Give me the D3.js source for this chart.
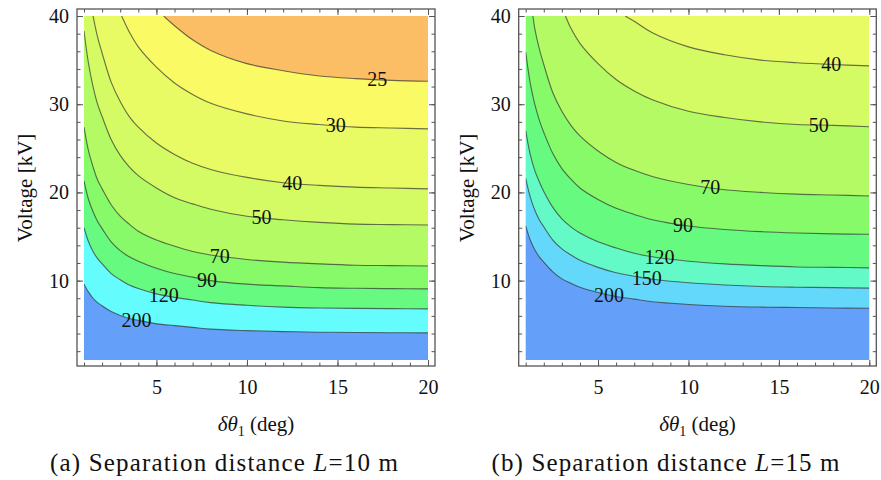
<!DOCTYPE html>
<html>
<head>
<meta charset="utf-8">
<script src="https://cdn.jsdelivr.net/npm/d3@7"></script>
<style>
  body { margin: 0; background: #fff; }
  svg { display: block; }
  svg text { font-family: "Liberation Serif", "DejaVu Serif", serif; fill: #111; }
</style>
</head>
<body>
<svg id="chart" width="881" height="480"></svg>
<script>
// Axis extents and tick labels
const thetaDomain = [1, 20];
const voltDomain = [1, 40];
const xTicks = [5, 10, 15, 20];
const yTicks = [10, 20, 30, 40];

// Panel (a): L = 10 m — separation-distance contour levels and their curves [δθ1, V]
const levelsA = [25, 30, 40, 50, 70, 90, 120, 200];
const contoursA = [
  [[5.4,40],[6,38.9],[7,37.3],[8,36.1],[10,34.6],[12,33.8],[14,33.2],[16,32.9],[18,32.7],[20,32.6]],
  [[3.08,40],[3.5,38.2],[4,36.5],[5,34.2],[6,32.4],[7,31.1],[8,30.1],[10,28.9],[12,28.1],[14,27.7],[16,27.4],[18,27.3],[20,27.2]],
  [[1.5,40],[1.75,37.6],[2,35.8],[2.5,32.5],[3,30.3],[3.5,28.6],[4,27.4],[5,25.6],[6,24.3],[7,23.3],[8,22.6],[10,21.7],[12,21.1],[14,20.8],[16,20.6],[18,20.5],[20,20.4]],
  [[1,38.3],[1.25,34.6],[1.5,32],[1.75,30],[2,28.6],[2.5,26],[3,24.2],[3.5,22.9],[4,21.9],[5,20.5],[6,19.4],[7,18.7],[8,18.1],[10,17.3],[12,16.9],[14,16.6],[16,16.4],[18,16.35],[20,16.3]],
  [[1,27.4],[1.25,24.7],[1.5,22.9],[1.75,21.4],[2,20.4],[2.5,18.6],[3,17.3],[3.5,16.4],[4,15.6],[5,14.6],[6,13.9],[7,13.3],[8,12.9],[10,12.4],[12,12.1],[14,11.9],[16,11.75],[18,11.7],[20,11.65]],
  [[1,21.3],[1.25,19.2],[1.5,17.8],[1.75,16.7],[2,15.9],[2.5,14.4],[3,13.4],[3.5,12.7],[4,12.2],[5,11.4],[6,10.8],[7,10.4],[8,10.0],[10,9.6],[12,9.4],[14,9.2],[16,9.13],[18,9.09],[20,9.06]],
  [[1,16.0],[1.25,14.4],[1.5,13.3],[1.75,12.5],[2,11.9],[2.5,10.8],[3,10.1],[3.5,9.5],[4,9.1],[5,8.5],[6,8.1],[7,7.8],[8,7.5],[10,7.2],[12,7.0],[14,6.9],[16,6.85],[18,6.82],[20,6.8]],
  [[1,9.6],[1.25,8.7],[1.5,8.0],[1.75,7.5],[2,7.15],[2.5,6.5],[3,6.05],[3.5,5.7],[4,5.5],[5,5.1],[6,4.9],[7,4.7],[8,4.5],[10,4.33],[12,4.22],[14,4.15],[16,4.11],[18,4.09],[20,4.08]]
];
const labelThetaA = [17.2, 14.9, 12.5, 10.8, 8.5, 7.8, 5.4, 3.9];
const bandsA = ["#FCBE64", "#FAFA64", "#E8FA64", "#D4FA64", "#B4FA64", "#86FA68", "#66FA80", "#64FCFC", "#64A0FA"];

// Panel (b): L = 15 m
const levelsB = [40, 50, 70, 90, 120, 150, 200];
const contoursB = [
  [[6.5,40],[7,39.4],[8,38.1],[10,36.5],[12,35.6],[14,35.0],[16,34.7],[18,34.5],[20,34.35]],
  [[3.2,40],[3.5,38.6],[4,36.9],[5,34.6],[6,32.8],[7,31.5],[8,30.5],[10,29.2],[12,28.5],[14,28.0],[16,27.7],[18,27.6],[20,27.45]],
  [[1.4,40],[1.5,38.6],[1.75,36.3],[2,34.5],[2.5,31.3],[3,29.2],[3.5,27.6],[4,26.4],[5,24.7],[6,23.4],[7,22.5],[8,21.8],[10,20.9],[12,20.3],[14,20.0],[16,19.8],[18,19.7],[20,19.6]],
  [[1,35.9],[1.25,32.4],[1.5,30.0],[1.75,28.2],[2,26.8],[2.5,24.4],[3,22.7],[3.5,21.5],[4,20.5],[5,19.2],[6,18.2],[7,17.5],[8,16.9],[10,16.2],[12,15.8],[14,15.55],[16,15.4],[18,15.3],[20,15.25]],
  [[1,27.0],[1.25,24.3],[1.5,22.5],[1.75,21.2],[2,20.1],[2.5,18.3],[3,17.0],[3.5,16.1],[4,15.4],[5,14.4],[6,13.7],[7,13.1],[8,12.7],[10,12.2],[12,11.9],[14,11.7],[16,11.55],[18,11.5],[20,11.45]],
  [[1,21.6],[1.25,19.5],[1.5,18.0],[1.75,16.9],[2,16.1],[2.5,14.6],[3,13.6],[3.5,12.9],[4,12.3],[5,11.5],[6,10.9],[7,10.5],[8,10.15],[10,9.75],[12,9.5],[14,9.33],[16,9.25],[18,9.2],[20,9.15]],
  [[1,16.2],[1.25,14.6],[1.5,13.5],[1.75,12.7],[2,12.1],[2.5,11.0],[3,10.2],[3.5,9.7],[4,9.25],[5,8.65],[6,8.2],[7,7.9],[8,7.6],[10,7.3],[12,7.1],[14,7.0],[16,6.95],[18,6.9],[20,6.87]]
];
const labelThetaB = [17.9, 17.2, 11.2, 9.7, 8.4, 7.7, 5.6];
const bandsB = ["#E8FA64", "#D4FA64", "#B4FA64", "#86FA68", "#66FA80", "#64FAC8", "#64D8FA", "#64A0FA"];

const captions = [
  { tag: "(a)", dist: "10" },
  { tag: "(b)", dist: "15" }
];

const SERIF = '"Liberation Serif", "DejaVu Serif", serif';
const svg = d3.select("#chart");

function interpV(curve, t) {
  for (let i = 1; i < curve.length; i++) {
    const [x0, v0] = curve[i - 1], [x1, v1] = curve[i];
    if (t >= x0 && t <= x1) return v0 + (v1 - v0) * (t - x0) / (x1 - x0);
  }
  return curve[curve.length - 1][1];
}

function drawPanel(id, left, right, levels, contours, labelTheta, bands, caption) {
  const top = 16, bottom = 360, pad = 7;
  const x = d3.scaleLinear().domain(thetaDomain).range([left, right]);
  const y = d3.scaleLinear().domain(voltDomain).range([bottom, top]);
  const g = svg.append("g");

  g.append("clipPath").attr("id", "clip-" + id)
    .append("rect").attr("x", left).attr("y", top)
    .attr("width", right - left).attr("height", bottom - top);

  const plot = g.append("g").attr("clip-path", `url(#clip-${id})`);
  const line = d3.line().x(d => x(d[0])).y(d => y(d[1])).curve(d3.curveCatmullRom.alpha(0.5));

  // region of smallest distance fills the whole plot first
  plot.append("rect").attr("x", left).attr("y", top)
    .attr("width", right - left).attr("height", bottom - top)
    .attr("fill", bands[0]);

  // each band below a contour is painted over the previous ones
  plot.selectAll("path.band").data(contours).join("path")
    .attr("class", "band")
    .attr("fill", (d, i) => bands[i + 1])
    .attr("d", d => {
      let p = line(d) + `L${x(thetaDomain[1])},${y(voltDomain[0])}L${x(thetaDomain[0])},${y(voltDomain[0])}`;
      if (d[0][0] > thetaDomain[0]) p += `L${x(thetaDomain[0])},${y(voltDomain[1])}`;
      return p + "Z";
    });

  plot.selectAll("path.iso").data(contours).join("path")
    .attr("class", "iso")
    .attr("fill", "none")
    .attr("stroke", "#333")
    .attr("stroke-opacity", 0.7)
    .attr("stroke-width", 1.1)
    .attr("d", line);

  // contour level labels
  g.selectAll("text.lvl").data(levels).join("text")
    .attr("class", "lvl")
    .attr("x", (d, i) => x(labelTheta[i]))
    .attr("y", (d, i) => y(interpV(contours[i], labelTheta[i])))
    .attr("dy", "0.33em")
    .attr("text-anchor", "middle")
    .style("font-family", SERIF)
    .style("font-size", "20px")
    .text(d => d);

  // frame
  const fL = left - pad, fR = right + pad, fT = top - pad, fB = bottom + 6;
  g.append("rect").attr("x", fL).attr("y", fT)
    .attr("width", fR - fL).attr("height", fB - fT)
    .attr("fill", "none").attr("stroke", "#555").attr("stroke-width", 1.3);

  const minorX = d3.range(1, 21), minorY = d3.range(2, 41, 2);
  const styleAxis = sel => {
    sel.select(".domain").remove();
    sel.selectAll("line").attr("stroke", "#555").attr("stroke-width", 1);
    sel.selectAll("text").style("font-family", SERIF).style("font-size", "20px").attr("fill", "#111");
  };

  g.append("g").attr("transform", `translate(0,${fB})`)
    .call(d3.axisBottom(x).tickValues(minorX).tickSize(-3.5).tickFormat("")).call(styleAxis);
  g.append("g").attr("transform", `translate(0,${fB})`)
    .call(d3.axisBottom(x).tickValues(xTicks).tickSize(-6).tickPadding(14)).call(styleAxis);
  g.append("g").attr("transform", `translate(0,${fT})`)
    .call(d3.axisTop(x).tickValues(minorX).tickSize(-3.5).tickFormat("")).call(styleAxis);
  g.append("g").attr("transform", `translate(0,${fT})`)
    .call(d3.axisTop(x).tickValues(xTicks).tickSize(-6).tickFormat("")).call(styleAxis);
  g.append("g").attr("transform", `translate(${fL},0)`)
    .call(d3.axisLeft(y).tickValues(minorY).tickSize(-3.5).tickFormat("")).call(styleAxis);
  g.append("g").attr("transform", `translate(${fL},0)`)
    .call(d3.axisLeft(y).tickValues(yTicks).tickSize(-6).tickPadding(8)).call(styleAxis);
  g.append("g").attr("transform", `translate(${fR},0)`)
    .call(d3.axisRight(y).tickValues(minorY).tickSize(-3.5).tickFormat("")).call(styleAxis);
  g.append("g").attr("transform", `translate(${fR},0)`)
    .call(d3.axisRight(y).tickValues(yTicks).tickSize(-6).tickFormat("")).call(styleAxis);

  // axis titles
  const xt = g.append("text").attr("x", (left + right) / 2).attr("y", 431)
    .attr("text-anchor", "middle").style("font-family", SERIF).style("font-size", "21px");
  xt.append("tspan").attr("font-style", "italic").text("δθ");
  xt.append("tspan").style("font-size", "14px").attr("dy", 5).text("1");
  xt.append("tspan").attr("dy", -5).text(" (deg)");

  g.append("text")
    .attr("transform", `translate(${fL - 45},${(top + bottom) / 2}) rotate(-90)`)
    .attr("text-anchor", "middle").style("font-family", SERIF).style("font-size", "21px")
    .text("Voltage [kV]");

  // caption
  const cap = g.append("text").attr("x", (fL + fR) / 2 - 32).attr("y", 471)
    .attr("text-anchor", "middle").style("font-family", SERIF).style("font-size", "25px")
    .attr("textLength", 348).attr("lengthAdjust", "spacing");
  cap.append("tspan").text(`${caption.tag} Separation distance `);
  cap.append("tspan").attr("font-style", "italic").text("L");
  cap.append("tspan").text(`=${caption.dist} m`);
}

drawPanel("a", 84, 428, levelsA, contoursA, labelThetaA, bandsA, captions[0]);
drawPanel("b", 525.7, 869.3, levelsB, contoursB, labelThetaB, bandsB, captions[1]);
</script>
</body>
</html>
